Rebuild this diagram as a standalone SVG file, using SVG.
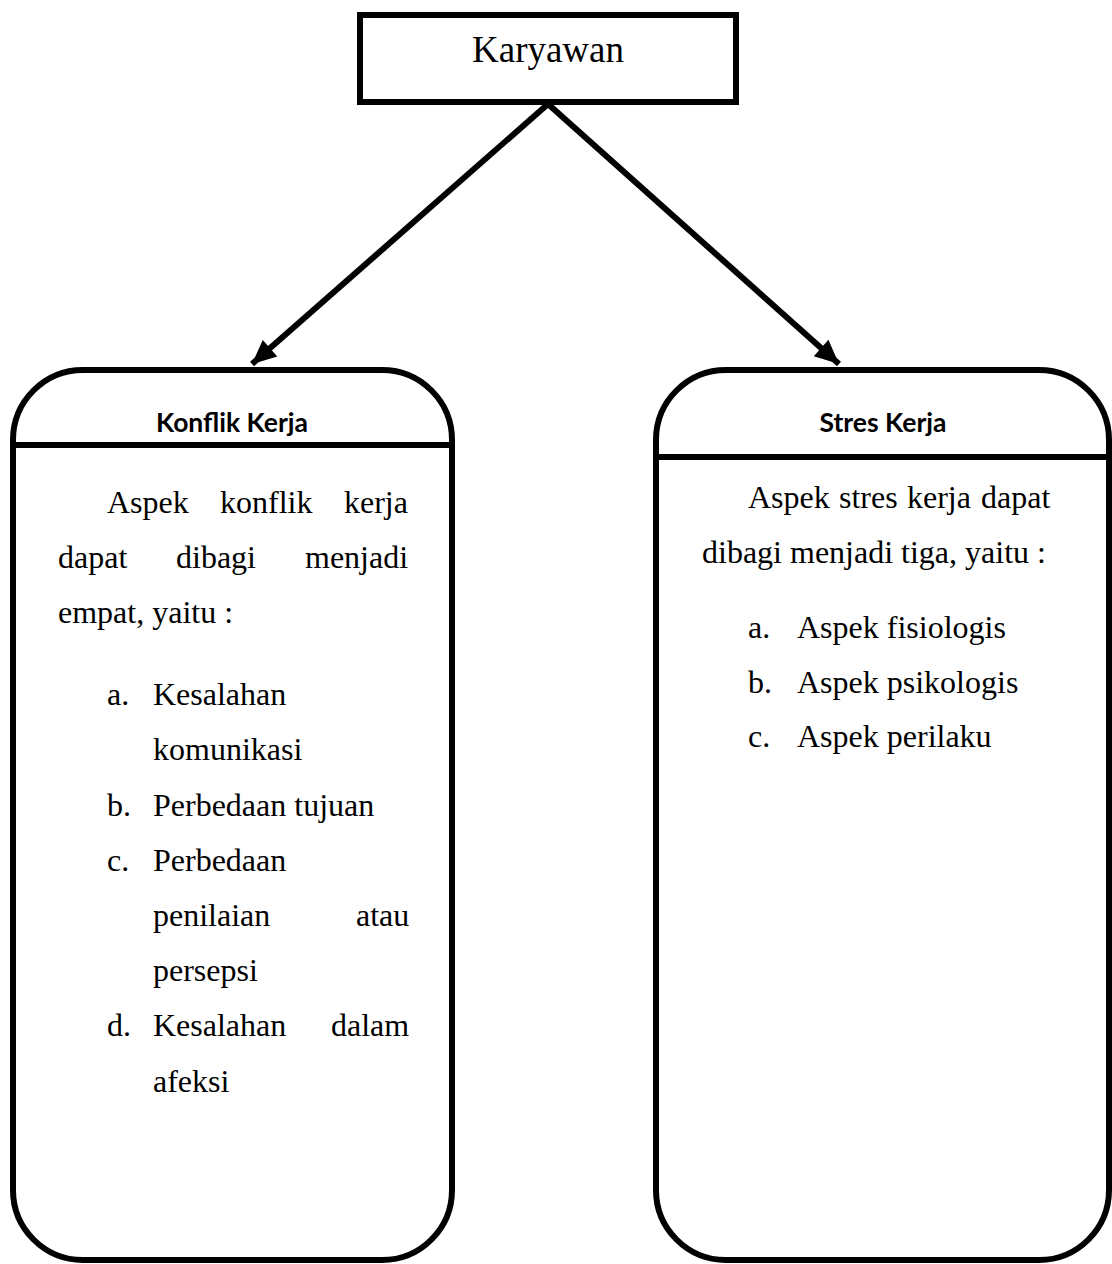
<svg xmlns="http://www.w3.org/2000/svg" width="1112" height="1264" viewBox="0 0 1112 1264">
<style>
.box{fill:#fff;stroke:#000;stroke-width:6}
.div{stroke:#000;stroke-width:6}
.conn{stroke:#000;stroke-width:6;fill:none}
.t{font-family:"Liberation Serif","Times New Roman",serif;font-size:32px;fill:#000}
.title{font-family:"Liberation Serif","Times New Roman",serif;font-size:37px;fill:#000}
.hdr{font-family:Lato,"Open Sans",sans-serif;font-weight:bold;font-size:26.5px;fill:#000}
</style>
<defs>
<marker id="ah" markerUnits="userSpaceOnUse" markerWidth="30" markerHeight="30" viewBox="0 0 30 30" refX="26" refY="15" orient="auto">
<path d="M2,4 L26,15 L2,26 Z" fill="#000"/>
</marker>
</defs>
<g id="connectors">
<line class="conn" x1="548" y1="104" x2="252" y2="364" marker-end="url(#ah)"/>
<line class="conn" x1="548" y1="104" x2="839" y2="364" marker-end="url(#ah)"/>
</g>
<g id="karyawan">
<rect class="box" x="360" y="15" width="376" height="87"/>
<text class="title" x="548" y="62" text-anchor="middle">Karyawan</text>
</g>
<g id="konflik-kerja">
<rect class="box" x="13" y="370" width="439" height="890" rx="70" ry="70"/>
<line class="div" x1="13" y1="445" x2="452" y2="445"/>
<text class="hdr" x="232" y="432" text-anchor="middle">Konflik Kerja</text>
<text class="t" y="513"><tspan x="107">Aspek</tspan><tspan x="220">konflik</tspan><tspan x="344">kerja</tspan></text>
<text class="t" y="568"><tspan x="58">dapat</tspan><tspan x="176">dibagi</tspan><tspan x="305">menjadi</tspan></text>
<text class="t" x="58" y="623">empat, yaitu :</text>
<text class="t" y="705"><tspan x="107">a.</tspan><tspan x="153">Kesalahan</tspan></text>
<text class="t" x="153" y="760">komunikasi</text>
<text class="t" y="816"><tspan x="107">b.</tspan><tspan x="153">Perbedaan tujuan</tspan></text>
<text class="t" y="871"><tspan x="107">c.</tspan><tspan x="153">Perbedaan</tspan></text>
<text class="t" y="926"><tspan x="153">penilaian</tspan><tspan x="356">atau</tspan></text>
<text class="t" x="153" y="981">persepsi</text>
<text class="t" y="1036"><tspan x="107">d.</tspan><tspan x="153">Kesalahan</tspan><tspan x="331">dalam</tspan></text>
<text class="t" x="153" y="1092">afeksi</text>
</g>
<g id="stres-kerja">
<rect class="box" x="656" y="370" width="453" height="890" rx="70" ry="70"/>
<line class="div" x1="656" y1="457" x2="1109" y2="457"/>
<text class="hdr" x="883" y="432" text-anchor="middle">Stres Kerja</text>
<text class="t" y="508"><tspan x="748">Aspek</tspan><tspan x="839">stres</tspan><tspan x="907">kerja</tspan><tspan x="981">dapat</tspan></text>
<text class="t" x="702" y="563">dibagi menjadi tiga, yaitu :</text>
<text class="t" y="638"><tspan x="748">a.</tspan><tspan x="797">Aspek fisiologis</tspan></text>
<text class="t" y="693"><tspan x="748">b.</tspan><tspan x="797">Aspek psikologis</tspan></text>
<text class="t" y="747"><tspan x="748">c.</tspan><tspan x="797">Aspek perilaku</tspan></text>
</g>
</svg>
